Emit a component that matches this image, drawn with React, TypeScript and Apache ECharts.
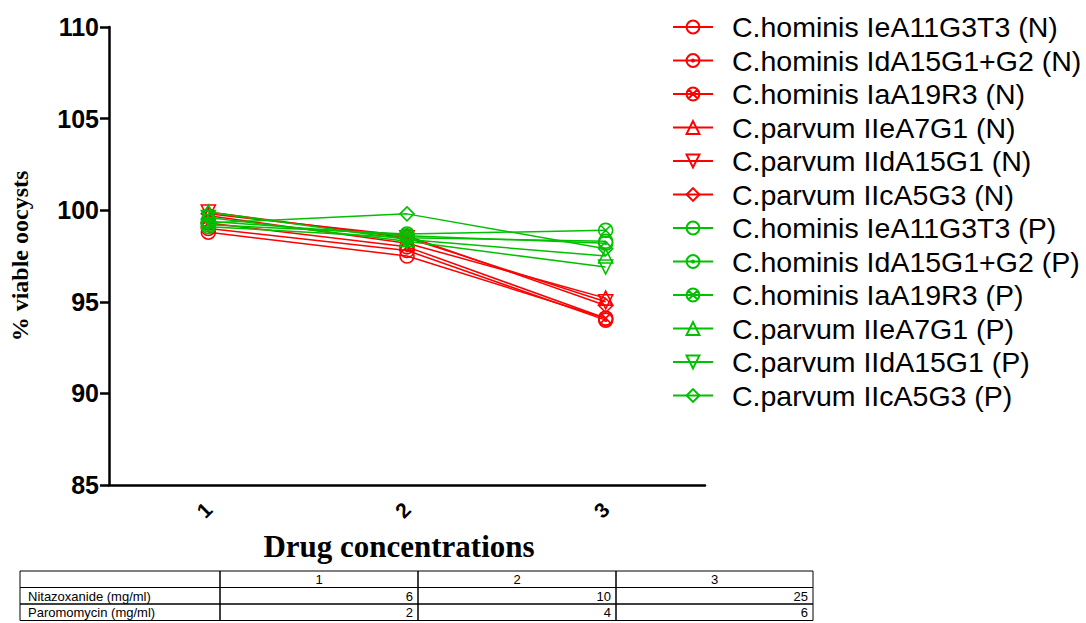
import React, { useEffect, useRef } from "react";
import * as echarts from "echarts";

const concentrations = ["1", "2", "3"];

const seriesNames = [
  "C.hominis IeA11G3T3 (N)",
  "C.hominis IdA15G1+G2 (N)",
  "C.hominis IaA19R3 (N)",
  "C.parvum IIeA7G1 (N)",
  "C.parvum IIdA15G1 (N)",
  "C.parvum IIcA5G3 (N)",
  "C.hominis IeA11G3T3 (P)",
  "C.hominis IdA15G1+G2 (P)",
  "C.hominis IaA19R3 (P)",
  "C.parvum IIeA7G1 (P)",
  "C.parvum IIdA15G1 (P)",
  "C.parvum IIcA5G3 (P)",
];

const hominisIeN = [98.8, 97.5, 94.1];
const hominisIdN = [99.0, 97.8, 94.0];
const hominisIaN = [99.3, 98.0, 94.1];
const parvumIIeN = [99.7, 98.2, 95.2];
const parvumIIdN = [99.9, 98.5, 95.0];
const parvumIIcN = [99.8, 98.6, 94.8];
const hominisIeP = [99.1, 98.5, 98.3];
const hominisIdP = [99.4, 98.6, 98.2];
const hominisIaP = [99.2, 98.7, 98.9];
const parvumIIeP = [99.9, 98.4, 97.5];
const parvumIIdP = [99.6, 98.3, 96.9];
const parvumIIcP = [99.3, 99.8, 97.9];

const seriesValues = [
  hominisIeN, hominisIdN, hominisIaN, parvumIIeN, parvumIIdN, parvumIIcN,
  hominisIeP, hominisIdP, hominisIaP, parvumIIeP, parvumIIdP, parvumIIcP,
];

const yTicks = [85, 90, 95, 100, 105, 110];

const tableHeader = ["", "1", "2", "3"];
const tableRowLabels = ["Nitazoxanide (mg/ml)", "Paromomycin (mg/ml)"];
const nitazoxanide = [6, 10, 25];
const paromomycin = [2, 4, 6];

const CIRCLE = "M0,-10 A10,10 0 1,1 0,10 A10,10 0 1,1 0,-10 Z";
const symbols = [
  "path://" + CIRCLE,
  "path://" + CIRCLE + " M0,-1.6 A1.6,1.6 0 1,1 0,1.6 A1.6,1.6 0 1,1 0,-1.6 Z",
  "path://" + CIRCLE + " M-7,-7 L7,7 M-7,7 L7,-7",
  "path://M0,-10 L10,8 L-10,8 Z",
  "path://M0,10 L10,-8 L-10,-8 Z",
  "path://M0,-10 L11,0 L0,10 L-11,0 Z",
];

const RED = "#ff0000";
const GREEN = "#00c000";
const SANS = "Liberation Sans, Arial, sans-serif";
const SERIF = "Liberation Serif, Times New Roman, serif";

function buildTable() {
  const colX = [20, 220, 418, 616, 813];
  const rowY = [571, 587.5, 604, 620.5];
  const rows: string[][] = [
    tableHeader,
    [tableRowLabels[0], ...nitazoxanide.map(String)],
    [tableRowLabels[1], ...paromomycin.map(String)],
  ];
  const els: any[] = [];
  for (let r = 0; r < rows.length; r++) {
    for (let c = 0; c < 4; c++) {
      els.push({
        type: "rect",
        shape: { x: colX[c], y: rowY[r], width: colX[c + 1] - colX[c], height: rowY[r + 1] - rowY[r] },
        style: { fill: "none", stroke: "#000", lineWidth: 1 },
        silent: true,
      });
      const txt = rows[r][c];
      if (!txt) continue;
      let x: number;
      let align: string;
      if (r === 0) {
        x = (colX[c] + colX[c + 1]) / 2;
        align = "center";
      } else if (c === 0) {
        x = colX[c] + 8;
        align = "left";
      } else {
        x = colX[c + 1] - 5;
        align = "right";
      }
      els.push({
        type: "text",
        x,
        y: (rowY[r] + rowY[r + 1]) / 2 + 0.5,
        style: {
          text: txt,
          fill: "#000",
          font: "13px " + SANS,
          textAlign: align,
          textVerticalAlign: "middle",
        },
        silent: true,
      });
    }
  }
  return els;
}

export default function App() {
  const ref = useRef<HTMLDivElement>(null);

  useEffect(() => {
    if (!ref.current) return;
    const chart = echarts.init(ref.current, null, { renderer: "svg" });
    const series = seriesNames.map((name, i) => {
      const color = i < 6 ? RED : GREEN;
      return {
        name,
        type: "line",
        data: seriesValues[i],
        symbol: symbols[i % 6],
        symbolSize: 14,
        showAllSymbol: true,
        lineStyle: { color, width: 1.5 },
        itemStyle: { color: "rgba(255,255,255,0)", borderColor: color, borderWidth: 1.6 },
        emphasis: { disabled: true },
        z: i < 6 ? 2 : 3,
      };
    });
    chart.setOption({
      animation: false,
      backgroundColor: "#ffffff",
      grid: { left: 106, top: 27, width: 599, height: 458, containLabel: false },
      legend: {
        orient: "vertical",
        left: 672,
        top: 12.5,
        padding: 0,
        itemWidth: 40,
        itemHeight: 16,
        itemGap: 4.5,
        data: seriesNames,
        textStyle: {
          color: "#000",
          fontSize: 28.5,
          lineHeight: 29,
          fontFamily: SANS,
          padding: [0, 0, 0, 14],
        },
        selectedMode: false,
      },
      xAxis: {
        type: "category",
        data: concentrations,
        boundaryGap: true,
        name: "Drug concentrations",
        nameLocation: "middle",
        nameGap: 46,
        nameTextStyle: {
          color: "#000",
          fontSize: 31,
          fontWeight: "bold",
          fontFamily: SERIF,
          padding: [0, 16, 0, 0],
        },
        axisLine: { lineStyle: { color: "#000", width: 2.5 } },
        axisTick: { alignWithLabel: true, length: 8, lineStyle: { color: "#000", width: 2.5 } },
        axisLabel: {
          color: "#000",
          fontSize: 21,
          fontWeight: "bold",
          fontFamily: SANS,
          rotate: 45,
          margin: 21,
        },
        splitLine: { show: false },
      },
      yAxis: {
        type: "value",
        min: yTicks[0],
        max: yTicks[yTicks.length - 1],
        interval: 5,
        name: "% viable oocysts",
        nameLocation: "middle",
        nameRotate: 90,
        nameGap: 77,
        nameTextStyle: {
          color: "#000",
          fontSize: 24,
          fontWeight: "bold",
          fontFamily: SERIF,
        },
        axisLine: { show: true, lineStyle: { color: "#000", width: 2.5 } },
        axisTick: { show: true, length: 9, lineStyle: { color: "#000", width: 2.5 } },
        axisLabel: {
          color: "#000",
          fontSize: 25,
          fontWeight: "bold",
          fontFamily: SANS,
          margin: 10,
        },
        splitLine: { show: false },
      },
      graphic: buildTable(),
      series,
    });
    return () => chart.dispose();
  }, []);

  return (
    <div
      ref={ref}
      style={{ position: "fixed", left: 0, top: 0, width: 1086, height: 623, background: "#fff" }}
    />
  );
}
